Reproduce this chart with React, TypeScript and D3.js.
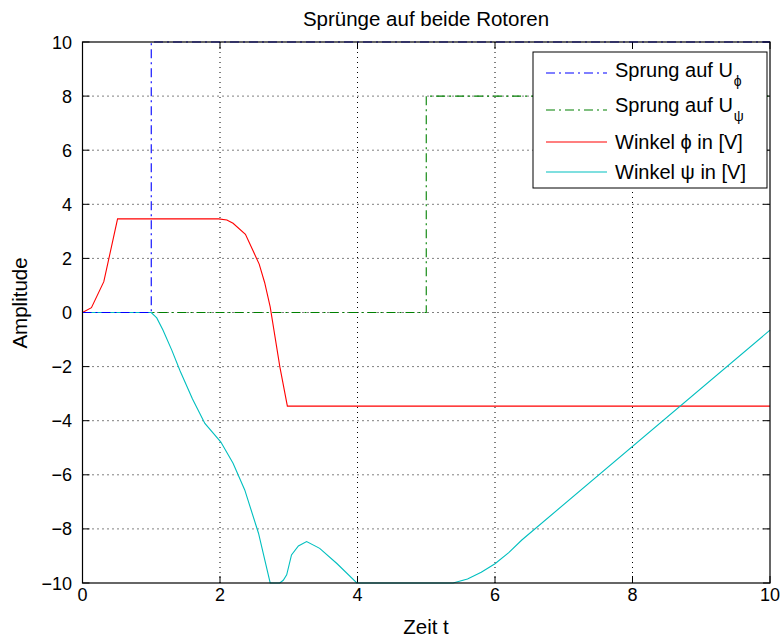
import React from "react";
import * as d3 from "d3";

// step inputs
const stepPhiX = [0, 1, 1, 10];
const stepPhiY = [0, 0, 10, 10];
const stepPsiX = [0, 5, 5, 10];
const stepPsiY = [0, 0, 8, 8];

// measured angles
const phiX = [0, 0.13, 0.31, 0.51, 1.98, 2.1, 2.19, 2.37, 2.57, 2.65, 2.73, 2.87, 2.98, 10];
const phiY = [0, 0.18, 1.14, 3.46, 3.46, 3.42, 3.3, 2.89, 1.79, 1.1, 0.21, -2.0, -3.46, -3.46];

const psiX = [0, 1.0, 1.08, 1.17, 1.3, 1.42, 1.6, 1.78, 2.01, 2.19, 2.36, 2.56, 2.73, 2.87, 2.92, 2.97, 3.04, 3.14, 3.26, 3.45, 3.7, 3.99, 5.39, 5.6, 5.8, 6.0, 6.2, 6.39, 10];
const psiY = [0, 0, -0.2, -0.65, -1.4, -2.16, -3.2, -4.1, -4.78, -5.57, -6.56, -8.16, -10, -10, -9.9, -9.7, -8.96, -8.63, -8.47, -8.72, -9.28, -10, -10, -9.85, -9.6, -9.29, -8.88, -8.41, -0.65];

const xTicks = [0, 2, 4, 6, 8, 10];
const yTicks = [-10, -8, -6, -4, -2, 0, 2, 4, 6, 8, 10];

const W = 782;
const H = 637;
const m = { left: 82.5, right: 770, top: 42, bottom: 583 };
const font = "'Liberation Sans', Arial, Helvetica, sans-serif";

const x = d3.scaleLinear().domain([0, 10]).range([m.left, m.right]);
const y = d3.scaleLinear().domain([-10, 10]).range([m.bottom, m.top]);

const line = (xs: number[], ys: number[]) =>
  d3.line<number>().x((d) => x(d)).y((_, i) => y(ys[i]))(xs) || "";

const dashDot = "9,4,2,4";
const fmt = (t: number) => (t < 0 ? "−" + Math.abs(t) : String(t));

export default function App() {
  const legendRows = [
    { color: "#0000ff", dash: dashDot, label: "Sprung auf U", sub: "ϕ" },
    { color: "#008000", dash: dashDot, label: "Sprung auf U", sub: "ψ" },
    { color: "#ff0000", dash: undefined, label: "Winkel ϕ in [V]", sub: "" },
    { color: "#00bfbf", dash: undefined, label: "Winkel ψ in [V]", sub: "" },
  ];
  const rowLine = [73, 110, 142, 172];
  const rowText = [77, 112, 149, 179];

  return (
    <svg
      width={W}
      height={H}
      style={{ position: "absolute", left: 0, top: 0, background: "#fff" }}
      fontFamily={font}
    >
      <rect x={0} y={0} width={W} height={H} fill="#fff" />
      {/* grid */}
      <g stroke="#000" strokeWidth={1} strokeDasharray="1,4">
        {xTicks.slice(1, -1).map((t) => (
          <line key={"gx" + t} x1={x(t)} x2={x(t)} y1={m.top} y2={m.bottom} />
        ))}
        {yTicks.slice(1, -1).map((t) => (
          <line key={"gy" + t} x1={m.left} x2={m.right} y1={y(t)} y2={y(t)} />
        ))}
      </g>
      {/* ticks */}
      <g stroke="#000" strokeWidth={1}>
        {xTicks.map((t) => (
          <g key={"tx" + t}>
            <line x1={x(t)} x2={x(t)} y1={m.bottom} y2={m.bottom - 7} />
            <line x1={x(t)} x2={x(t)} y1={m.top} y2={m.top + 7} />
          </g>
        ))}
        {yTicks.map((t) => (
          <g key={"ty" + t}>
            <line x1={m.left} x2={m.left + 7} y1={y(t)} y2={y(t)} />
            <line x1={m.right} x2={m.right - 7} y1={y(t)} y2={y(t)} />
          </g>
        ))}
      </g>
      {/* data */}
      <g fill="none" strokeWidth={1.1}>
        <path d={line(stepPsiX, stepPsiY)} stroke="#008000" strokeDasharray={dashDot} />
        <path d={line(phiX, phiY)} stroke="#ff0000" />
        <path d={line(psiX, psiY)} stroke="#00bfbf" />
        <path d={line(stepPhiX, stepPhiY)} stroke="#0000ff" strokeDasharray={dashDot} />
      </g>
      {/* axes box */}
      <rect
        x={m.left}
        y={m.top}
        width={m.right - m.left}
        height={m.bottom - m.top}
        fill="none"
        stroke="#000"
        strokeWidth={1.2}
      />
      {/* tick labels */}
      <g fontSize={18} fill="#000">
        {xTicks.map((t) => (
          <text key={"lx" + t} x={x(t)} y={600.5} textAnchor="middle">
            {fmt(t)}
          </text>
        ))}
        {yTicks.map((t) => (
          <text key={"ly" + t} x={72} y={y(t) + 6.5} textAnchor="end">
            {fmt(t)}
          </text>
        ))}
      </g>
      {/* labels */}
      <text x={426} y={26} textAnchor="middle" fontSize={20.5}>
        Sprünge auf beide Rotoren
      </text>
      <text x={426} y={634} textAnchor="middle" fontSize={20.5}>
        Zeit t
      </text>
      <text
        transform={`translate(27,303) rotate(-90)`}
        textAnchor="middle"
        fontSize={20.5}
      >
        Amplitude
      </text>
      {/* legend */}
      <rect x={533} y={52} width={234} height={136} fill="#fff" stroke="#000" strokeWidth={1} />
      {legendRows.map((r, i) => (
        <g key={"lg" + i}>
          <line
            x1={546}
            x2={607}
            y1={rowLine[i]}
            y2={rowLine[i]}
            stroke={r.color}
            strokeWidth={1.1}
            strokeDasharray={r.dash}
          />
          <text x={615} y={rowText[i]} fontSize={20}>
            {r.label}
            {r.sub && (
              <tspan dy={9} dx={1} fontSize={14}>
                {r.sub}
              </tspan>
            )}
          </text>
        </g>
      ))}
    </svg>
  );
}
